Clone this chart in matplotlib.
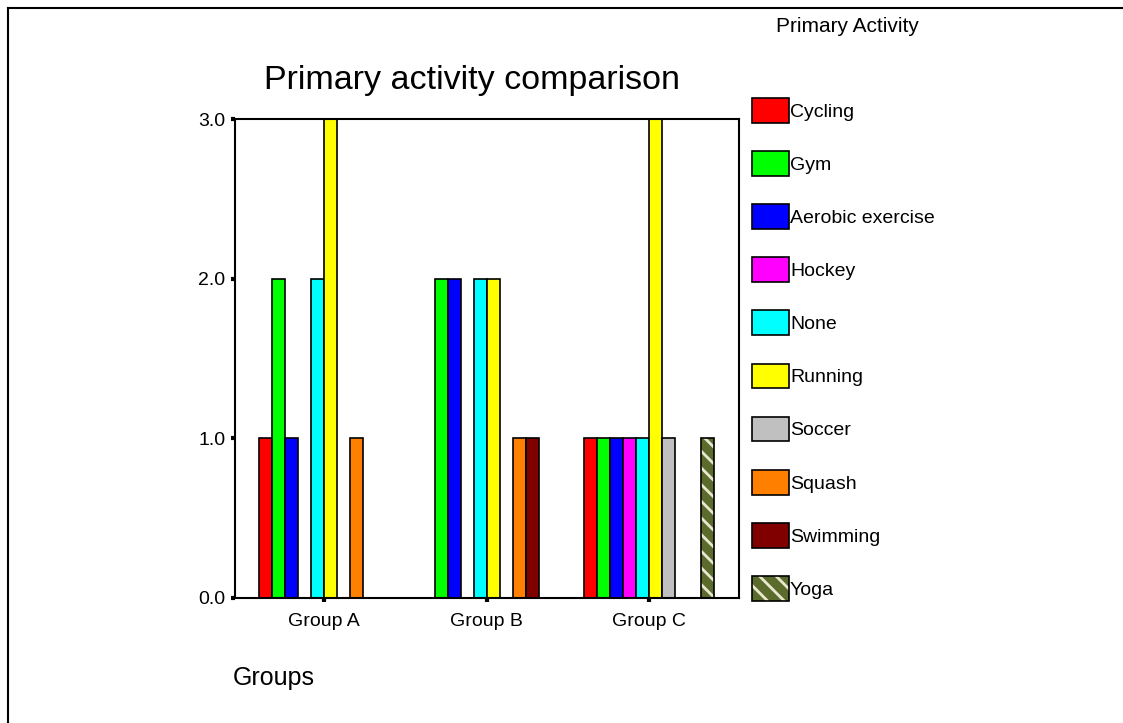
import matplotlib.pyplot as plt
from matplotlib.lines import Line2D
from matplotlib.ticker import FormatStrFormatter
import numpy as np

plt.rcParams['font.family'] = ['Liberation Sans', 'DejaVu Sans']
plt.rcParams['hatch.linewidth'] = 2.0

groups = ['Group A', 'Group B', 'Group C']
activities = ['Cycling', 'Gym', 'Aerobic exercise', 'Hockey', 'None',
              'Running', 'Soccer', 'Squash', 'Swimming', 'Yoga']
colors = ['#FF0000', '#00FF00', '#0000FF', '#FF00FF', '#00FFFF',
          '#FFFF00', '#C0C0C0', '#FF8000', '#800000', '#5A6B2B']

# counts per activity, one value per group (A, B, C)
cycling = [1, 0, 1]
gym = [2, 2, 1]
aerobic = [1, 2, 1]
hockey = [0, 0, 1]
none_ = [2, 2, 1]
running = [3, 2, 3]
soccer = [0, 0, 1]
squash = [1, 1, 0]
swimming = [0, 1, 0]
yoga = [0, 0, 1]
counts = [cycling, gym, aerobic, hockey, none_, running, soccer, squash, swimming, yoga]

W, H = 1123, 723
fig = plt.figure(figsize=(W / 100, H / 100), dpi=100)
ax = fig.add_axes([235 / W, 1 - 598 / H, (739 - 235) / W, (598 - 119) / H])

x = np.arange(len(groups))
bw = 0.08
handles = []
for i, (name, vals, c) in enumerate(zip(activities, counts, colors)):
    pos = x + (i - 4.5) * bw
    if name == 'Yoga':
        ax.bar(pos, vals, bw, color=c, edgecolor='#E8E8D0', hatch='\\\\', linewidth=0, zorder=3)
        ax.bar(pos, vals, bw, facecolor='none', edgecolor='black', linewidth=1.2, zorder=4)
        h = plt.Rectangle((0, 0), 1, 1, facecolor=c, edgecolor='#E8E8D0', hatch='\\\\', linewidth=0)
        handles.append((h, plt.Rectangle((0, 0), 1, 1, facecolor='none', edgecolor='black', linewidth=1.2)))
    else:
        ax.bar(pos, vals, bw, color=c, edgecolor='black', linewidth=1.2, zorder=3)
        handles.append(plt.Rectangle((0, 0), 1, 1, facecolor=c, edgecolor='black', linewidth=1.2))

ax.set_xlim(-0.548, 2.554)
ax.set_ylim(0, 3)
ax.set_yticks([0, 1, 2, 3])
ax.yaxis.set_major_formatter(FormatStrFormatter('%.1f'))
ax.set_xticks(x)
ax.set_xticklabels(groups)
ax.tick_params(axis='both', direction='out', length=3, width=3, labelsize=14)
ax.tick_params(axis='x', pad=8)
ax.tick_params(axis='y', pad=4)
for s in ax.spines.values():
    s.set_linewidth(1.5)
    s.set_zorder(5)

fig.text(472 / W, 1 - 80 / H, 'Primary activity comparison', fontsize=24.5, ha='center', va='center')
fig.text(233 / W, 1 - 678 / H, 'Groups', fontsize=18, ha='left', va='center')
fig.text(847 / W, 1 - 27 / H, 'Primary Activity', fontsize=15, ha='center', va='center')

fs = 14
ax.legend(handles, activities, loc='upper left', bbox_to_anchor=(752 / W, 1 - 98 / H),
          bbox_transform=fig.transFigure, frameon=False, fontsize=fs,
          handlelength=1.9, handleheight=1.58, labelspacing=1.46,
          handletextpad=0.05, borderpad=0, borderaxespad=0)

# outer frame (only left and top edges fall inside the image)
fig.add_artist(Line2D([8 / W, 8 / W], [0, 1 - 8 / H], color='black', lw=1.5))
fig.add_artist(Line2D([8 / W, 1], [1 - 8 / H, 1 - 8 / H], color='black', lw=1.5))

fig.savefig('out.png', dpi=100)
